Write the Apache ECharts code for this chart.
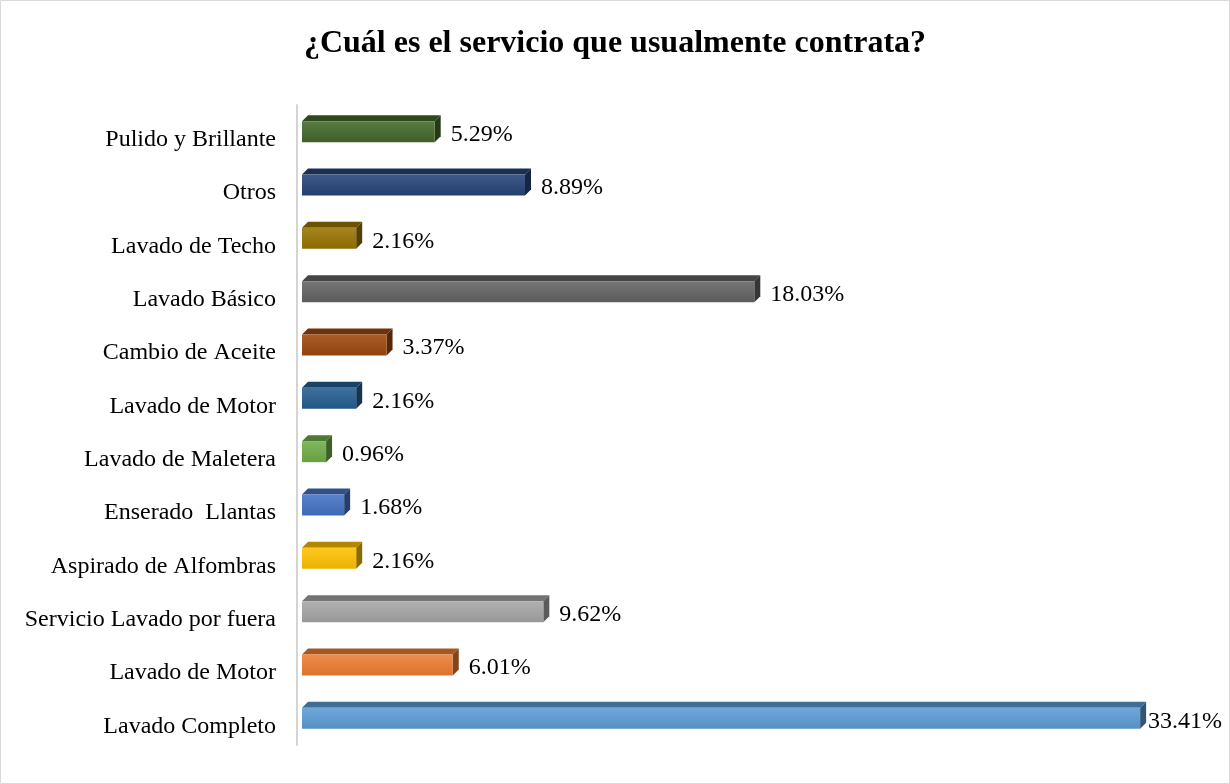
<!DOCTYPE html>
<html><head><meta charset="utf-8">
<script src="https://cdn.jsdelivr.net/npm/echarts@6/dist/echarts.min.js"></script>
<style>html,body{margin:0;padding:0;background:#fff}#c{width:1230px;height:784px}</style>
</head><body><div id="c"></div>
<script>
const categories = ['Lavado Completo','Lavado de Motor','Servicio Lavado por fuera','Aspirado de Alfombras','Enserado  Llantas','Lavado de Maletera','Lavado de Motor','Cambio de Aceite','Lavado Básico','Lavado de Techo','Otros','Pulido y Brillante'];
const values = [33.41, 6.01, 9.62, 2.16, 1.68, 0.96, 2.16, 3.37, 18.03, 2.16, 8.89, 5.29];
const colors = ['#5B9BD5','#ED7D31','#A5A5A5','#FFC000','#4472C4','#70AD47','#255E91','#9E480E','#636363','#997300','#264478','#43682B'];

function shade(hex, f){
  const n=parseInt(hex.slice(1),16);let r=n>>16,g=(n>>8)&255,b=n&255;
  if(f<0){r=Math.round(r*(1+f));g=Math.round(g*(1+f));b=Math.round(b*(1+f));}
  else{r=Math.round(r+(255-r)*f);g=Math.round(g+(255-g)*f);b=Math.round(b+(255-b)*f);}
  return 'rgb('+r+','+g+','+b+')';
}
const chart = echarts.init(document.getElementById('c'));
const D = 6, H = 21, GAP = 5;
chart.setOption({
  animation:false,
  title:{text:'¿Cuál es el servicio que usualmente contrata?',left:'center',top:23,
    textStyle:{fontFamily:'Liberation Serif',fontWeight:'bold',fontSize:32,color:'#000'}},
  graphic:[{type:'rect',shape:{x:0.5,y:0.5,width:1229,height:783},style:{fill:'none',stroke:'#d9d9d9',lineWidth:1},silent:true}],
  grid:{left:297,top:105,width:878,height:640},
  xAxis:{type:'value',min:0,max:35,show:false,splitLine:{show:false}},
  yAxis:{type:'category',data:categories,
    axisLine:{show:true,lineStyle:{color:'#d4d4d4',width:2}},
    axisTick:{show:false},
    axisLabel:{margin:21,color:'#000',fontFamily:'Liberation Serif',fontSize:24,verticalAlign:'top',lineHeight:16}},
  series:[{type:'custom',
    data:values.map((v,i)=>[v,i]),
    encode:{x:0,y:1},
    renderItem:function(params,api){
      const v=api.value(0), i=api.value(1);
      const p0=api.coord([0,i]), p1=api.coord([v,i]);
      const x0=p0[0]+GAP, x1=p1[0]+GAP, yc=p0[1];
      const yt=yc-H/2, yb=yc+H/2;
      const c=colors[i];
      return {type:'group',children:[
        {type:'polygon',shape:{points:[[x0,yt],[x0+D,yt-D],[x1+D,yt-D],[x1,yt]]},style:{fill:shade(c,-0.3)}},
        {type:'polygon',shape:{points:[[x1,yt],[x1+D,yt-D],[x1+D,yb-D],[x1,yb]]},style:{fill:shade(c,-0.45)}},
        {type:'rect',shape:{x:x0,y:yt,width:x1-x0,height:H},
          style:{fill:new echarts.graphic.LinearGradient(0,0,0,1,[{offset:0,color:shade(c,0.12)},{offset:1,color:shade(c,-0.08)}])}},
        {type:'text',style:{text:v.toFixed(2)+'%',x:Math.min(x1+D+10,1148),y:yc+3,verticalAlign:'middle',align:'left',
          fill:'#000',font:'24px "Liberation Serif"'}}
      ]};
    }
  }]
});
</script></body></html>
